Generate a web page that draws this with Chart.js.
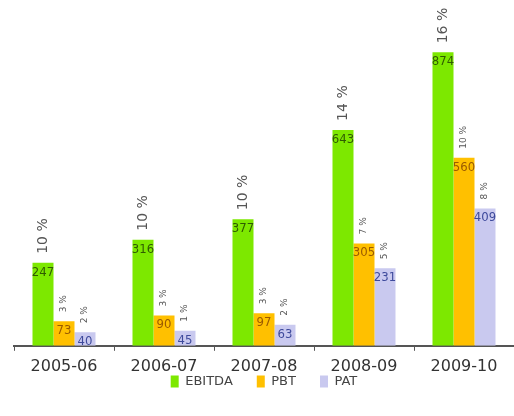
<!DOCTYPE html>
<html>
<head>
<meta charset="utf-8">
<script src="https://cdn.jsdelivr.net/npm/chart.js@4"></script>
<style>
  body { margin: 0; background: #fff; }
  #wrap { width: 514px; height: 416px; }
</style>
</head>
<body>
<div id="wrap"><canvas id="finChart"></canvas></div>
<script>
// Valores (Rs. crore e margens em %)
const years = ['2005-06', '2006-07', '2007-08', '2008-09', '2009-10'];
const ebitda = [247, 316, 377, 643, 874];
const pbt = [73, 90, 97, 305, 560];
const pat = [40, 45, 63, 231, 409];
const ebitdaPct = [10, 10, 10, 14, 16];
const pbtPct = [3, 3, 3, 7, 10];
const patPct = [2, 1, 2, 5, 8];

const valueColors = ['#2f5c00', '#9a5a00', '#3e4a9c'];
const pctSets = [ebitdaPct, pbtPct, patPct];
const pctFont = [14, 9, 9];

// Plugin simples: valor dentro da barra + margem girada acima
const barLabels = {
    id: 'barLabels',
    afterDatasetsDraw(chart) {
        const ctx = chart.ctx;
        chart.data.datasets.forEach(function (ds, i) {
            const meta = chart.getDatasetMeta(i);
            meta.data.forEach(function (bar, j) {
                ctx.save();
                ctx.font = '13px "Liberation Sans Narrow", "DejaVu Sans Condensed", sans-serif';
                ctx.fillStyle = valueColors[i];
                ctx.textAlign = 'center';
                ctx.textBaseline = 'top';
                ctx.fillText(ds.data[j], bar.x, bar.y + 3);

                ctx.translate(bar.x, bar.y - 9);
                ctx.rotate(-Math.PI / 2);
                ctx.font = pctFont[i] + 'px "DejaVu Sans", sans-serif';
                ctx.fillStyle = '#555';
                ctx.textAlign = 'left';
                ctx.textBaseline = 'middle';
                ctx.fillText(pctSets[i][j] + ' %', 0, 0);
                ctx.restore();
            });
        });
    }
};

// Legenda ocupa pouco espaço e fica logo abaixo dos rótulos do eixo X
const legendPlace = {
    id: 'legendPlace',
    beforeInit(chart) {
        const fit = chart.legend.fit;
        chart.legend.fit = function () {
            fit.call(this);
            this.height = 10;
        };
    },
    afterLayout(chart) {
        chart.legend.top = 351;
    }
};

const ctx = document.getElementById('finChart').getContext('2d');
new Chart(ctx, {
    type: 'bar',
    data: {
        labels: years,
        datasets: [
            { label: 'EBITDA', data: ebitda, backgroundColor: '#7de800' },
            { label: 'PBT', data: pbt, backgroundColor: '#ffc000' },
            { label: 'PAT', data: pat, backgroundColor: '#c9c9ef' }
        ]
    },
    options: {
        responsive: true,
        maintainAspectRatio: false,
        animation: false,
        layout: { padding: { left: 14, right: 0, top: 10, bottom: 24 } },
        datasets: {
            bar: { categoryPercentage: 0.63, barPercentage: 1.0 }
        },
        plugins: {
            legend: {
                position: 'bottom',
                labels: {
                    boxWidth: 8,
                    boxHeight: 12,
                    padding: 24,
                    color: '#444',
                    font: { family: '"DejaVu Sans", sans-serif', size: 13 }
                }
            },
            tooltip: { enabled: false }
        },
        scales: {
            y: {
                display: false,
                beginAtZero: true,
                max: 1000
            },
            x: {
                grid: {
                    display: true,
                    drawOnChartArea: false,
                    drawTicks: true,
                    tickLength: 5,
                    color: '#555'
                },
                border: { display: true, color: '#555', width: 2 },
                ticks: {
                    color: '#333',
                    padding: 6,
                    font: { family: '"DejaVu Sans", sans-serif', size: 16 }
                }
            }
        }
    },
    plugins: [barLabels, legendPlace]
});
</script>
</body>
</html>
